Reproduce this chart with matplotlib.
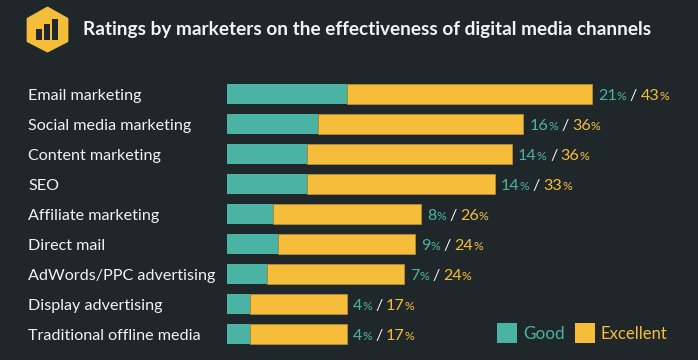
import matplotlib
matplotlib.use('Agg')
import matplotlib.pyplot as plt
from matplotlib.patches import Polygon, Rectangle

categories = ['Email marketing', 'Social media marketing', 'Content marketing', 'SEO',
              'Affiliate marketing', 'Direct mail', 'AdWords/PPC advertising',
              'Display advertising', 'Traditional offline media']
good = [21, 16, 14, 14, 8, 9, 7, 4, 4]
excellent = [43, 36, 36, 33, 26, 24, 24, 17, 17]
title = 'Ratings by marketers on the effectiveness of digital media channels'

BG = '#1f272b'
TEAL = '#4bb3a3'
YELLOW = '#f5bd3a'
WHITE = '#f2f4f4'
W, H = 698, 360

plt.rcParams['font.family'] = ['Lato', 'DejaVu Sans']

fig = plt.figure(figsize=(W / 100, H / 100), dpi=100, facecolor=BG)

# axes placed so one percent is 5.7 px and one row is 30 px
ax = fig.add_axes([227 / W, (H - 349) / H, 456 / W, 270 / H])
ax.set_facecolor('none')
ax.set_xlim(0, 80)
ax.set_ylim(8.5, -0.5)
ax.axis('off')

rows = list(range(len(categories)))
ax.barh(rows, excellent, left=good, height=0.667, color=YELLOW, edgecolor='#b8923a', linewidth=0.5)
ax.barh(rows, good, height=0.667, color=TEAL, linewidth=0)

renderer = fig.canvas.get_renderer()


def chained(x_px, y_px, pieces):
    # draw text pieces one after another, each starts where the last one ended
    for s, color, size, gap in pieces:
        t = fig.text(x_px / W, y_px / H, s, color=color, fontsize=size, va='baseline', ha='left')
        x_px = t.get_window_extent(renderer).x1 + gap


for i, name in enumerate(categories):
    y_disp = ax.transData.transform((0, i))[1]
    base = y_disp - 6
    fig.text(28 / W, base / H, name, color=WHITE, fontsize=11.6, va='baseline', ha='left')
    end = ax.transData.transform((good[i] + excellent[i], 0))[0]
    chained(end + 6, base, [(str(good[i]), TEAL, 11.6, 0), ('%', TEAL, 8.8, 3.5), ('/', WHITE, 11.6, 3.5),
                            (str(excellent[i]), YELLOW, 11.6, 0), ('%', YELLOW, 8.8, 0)])

fig.text(83 / W, (H - 35) / H, title, color=WHITE, fontsize=13.7, fontweight='bold', va='baseline', ha='left')


def px_rect(x, y, w, h, color):
    fig.add_artist(Rectangle((x / W, (H - y - h) / H), w / W, h / H, color=color, linewidth=0,
                             transform=fig.transFigure))


# legend
px_rect(497, 323, 20, 20, TEAL)
px_rect(575, 323, 20, 20, YELLOW)
fig.text(523 / W, (H - 339) / H, 'Good', color=TEAL, fontsize=12.3, va='baseline', ha='left')
fig.text(601 / W, (H - 339) / H, 'Excellent', color=YELLOW, fontsize=12, va='baseline', ha='left')

# hexagon icon with three small bars
hex_px = [(47.5, 8), (67, 19), (67, 41), (47.5, 51), (28, 41), (28, 19)]
fig.add_artist(Polygon([(x / W, (H - y) / H) for x, y in hex_px], closed=True, facecolor=YELLOW,
                       edgecolor=YELLOW, linewidth=2, joinstyle='round', transform=fig.transFigure))
px_rect(36, 29, 6, 10.5, BG)
px_rect(44, 24, 6, 15.5, BG)
px_rect(52, 19, 5.5, 20.5, BG)

fig.savefig('out.png', dpi=100, facecolor=BG)
